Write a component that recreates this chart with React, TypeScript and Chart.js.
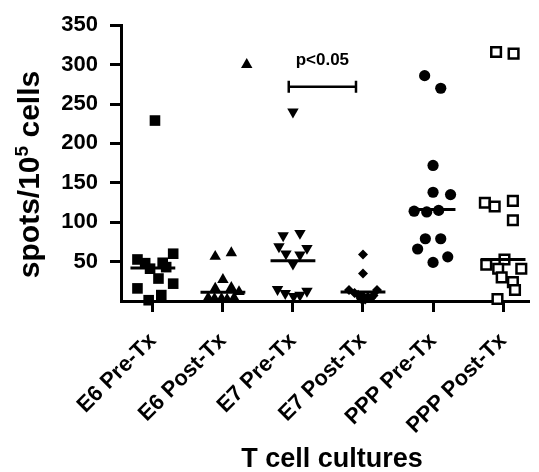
import { useEffect, useRef } from "react";
import { Chart, registerables } from "chart.js";

Chart.register(...registerables);

// ---------- data ----------
const categories = ["E6 Pre-Tx", "E6 Post-Tx", "E7 Pre-Tx", "E7 Post-Tx", "PPP Pre-Tx", "PPP Post-Tx"];
const yTickValues = [50, 100, 150, 200, 250, 300, 350];

const e6PreValues = [229, 60, 52.7, 48.5, 48, 43, 41, 28.5, 22, 16, 7.5, 1];
const e6PreJitter = [0.03, 0.29, -0.22, 0.14, -0.11, 0.19, -0.04, 0.08, 0.29, -0.22, 0.12, -0.06];

const e6PostValues = [300, 61, 56.5, 27, 17, 16, 11.7, 4, 3, 3, 2, 4];
const e6PostJitter = [0.34, 0.12, -0.11, 0, 0.12, -0.11, 0.23, -0.21, -0.12, -0.02, 0.06, 0.16];

const e7PreValues = [240, 86, 83, 69, 67, 60, 58.6, 47, 14.7, 12.5, 9.7, 7.5, 6];
const e7PreJitter = [0, 0.1, -0.14, -0.2, 0.2, -0.1, 0.1, 0, -0.22, 0.2, -0.11, 0.1, 0.01];

const e7PostValues = [59, 35, 14, 14, 10, 8, 6, 5, 4, 3, 2, 7];
const e7PostJitter = [0, 0, -0.2, 0.2, -0.12, -0.07, 0, 0.07, 0.12, -0.03, 0.03, 0.15];

const pppPreValues = [286, 270, 172, 138, 135, 115, 114, 113, 79, 79, 66, 56, 49];
const pppPreJitter = [-0.12, 0.11, 0, 0, 0.25, 0.08, -0.27, -0.09, -0.11, 0.11, -0.22, 0.21, 0];

const pppPostValues = [316, 314, 127, 124.6, 120, 102.5, 52.7, 46, 41, 41, 30, 24, 14, 2.5];
const pppPostJitter = [-0.1, 0.15, 0.14, -0.26, -0.12, 0.14, 0.02, -0.24, -0.07, 0.26, -0.02, 0.14, 0.17, -0.08];

const medians = [42, 11, 51, 11.5, 116, 52.7];

const bracketFrom = 1.94;
const bracketTo = 2.9;
const bracketValue = 272;
const pLabel = "p<0.05";
const pLabelValue = 306;

const xTitle = "T cell cultures";
const yTitleMain = "spots/10";
const yTitleSup = "5";
const yTitleEnd = " cells";

const FONT = "'Liberation Sans', Arial, sans-serif";

function pts(values: number[], jitter: number[], idx: number) {
  return values.map((v, i) => ({ x: idx + jitter[i], y: v }));
}

const annotationPlugin = {
  id: "annotations",
  afterDraw(chart: any) {
    const { ctx, scales } = chart;
    const x = scales.x;
    const y = scales.y;
    ctx.save();
    // significance bracket
    const x1 = x.getPixelForValue(bracketFrom);
    const x2 = x.getPixelForValue(bracketTo);
    const yb = y.getPixelForValue(bracketValue);
    ctx.strokeStyle = "#000";
    ctx.lineWidth = 2.5;
    ctx.beginPath();
    ctx.moveTo(x1, yb);
    ctx.lineTo(x2, yb);
    ctx.moveTo(x1, yb - 6);
    ctx.lineTo(x1, yb + 6);
    ctx.moveTo(x2, yb - 6);
    ctx.lineTo(x2, yb + 6);
    ctx.stroke();
    ctx.fillStyle = "#000";
    ctx.font = `bold 17px ${FONT}`;
    ctx.textAlign = "center";
    ctx.textBaseline = "middle";
    ctx.fillText(pLabel, (x1 + x2) / 2, y.getPixelForValue(pLabelValue));

    // x title
    ctx.font = `bold 27px ${FONT}`;
    ctx.textAlign = "center";
    ctx.textBaseline = "alphabetic";
    ctx.fillText(xTitle, 332, 466.5);

    // y title with superscript
    const mainFont = `bold 30px ${FONT}`;
    const supFont = `bold 19px ${FONT}`;
    ctx.font = mainFont;
    const w1 = ctx.measureText(yTitleMain).width;
    const w3 = ctx.measureText(yTitleEnd).width;
    ctx.font = supFont;
    const w2 = ctx.measureText(yTitleSup).width;
    const total = w1 + w2 + w3;
    ctx.translate(39, 174.5);
    ctx.rotate(-Math.PI / 2);
    ctx.textAlign = "left";
    ctx.textBaseline = "alphabetic";
    let cx = -total / 2;
    ctx.font = mainFont;
    ctx.fillText(yTitleMain, cx, 0);
    cx += w1;
    ctx.font = supFont;
    ctx.fillText(yTitleSup, cx, -11);
    cx += w2;
    ctx.font = mainFont;
    ctx.fillText(yTitleEnd, cx, 0);
    ctx.restore();
  },
};

export default function App() {
  const ref = useRef<HTMLCanvasElement | null>(null);

  useEffect(() => {
    document.body.style.margin = "0";
    const canvas = ref.current;
    if (!canvas) return;

    const pointSets = [
      { data: pts(e6PreValues, e6PreJitter, 0), pointStyle: "rect", pointRadius: 7.5, bg: "#000", rot: 0 },
      { data: pts(e6PostValues, e6PostJitter, 1), pointStyle: "triangle", pointRadius: 6.6, bg: "#000", rot: 0 },
      { data: pts(e7PreValues, e7PreJitter, 2), pointStyle: "triangle", pointRadius: 6.6, bg: "#000", rot: 180 },
      { data: pts(e7PostValues, e7PostJitter, 3), pointStyle: "rectRot", pointRadius: 5, bg: "#000", rot: 0 },
      { data: pts(pppPreValues, pppPreJitter, 4), pointStyle: "circle", pointRadius: 5.6, bg: "#000", rot: 0 },
      { data: pts(pppPostValues, pppPostJitter, 5), pointStyle: "rect", pointRadius: 6.8, bg: "#fff", rot: 0 },
    ];

    const datasets: any[] = [];
    medians.forEach((m, i) => {
      datasets.push({
        label: `median ${categories[i]}`,
        data: [
          { x: i - 0.32, y: m },
          { x: i + 0.32, y: m },
        ],
        showLine: true,
        borderColor: "#000",
        borderWidth: 3,
        pointRadius: 0,
        order: 0,
        clip: false,
      });
    });
    pointSets.forEach((s, i) => {
      datasets.push({
        label: categories[i],
        data: s.data,
        pointStyle: s.pointStyle,
        pointRadius: s.pointRadius,
        pointRotation: s.rot,
        pointBackgroundColor: s.bg,
        pointBorderColor: "#000",
        pointBorderWidth: s.bg === "#fff" ? 2.5 : 0,
        showLine: false,
        order: 1,
        clip: false,
      });
    });

    const chart = new Chart(canvas, {
      type: "scatter",
      data: { datasets },
      options: {
        animation: false,
        responsive: false,
        events: [],
        layout: { padding: { top: 22, right: 7, left: 0, bottom: 0 } },
        plugins: {
          legend: { display: false },
          tooltip: { enabled: false },
        },
        scales: {
          x: {
            type: "linear",
            min: -0.455,
            max: 5.38,
            afterBuildTicks: (scale: any) => {
              scale.ticks = categories.map((_, i) => ({ value: i }));
            },
            afterFit: (scale: any) => {
              scale.height = 171;
            },
            ticks: {
              autoSkip: false,
              maxRotation: 45,
              minRotation: 45,
              padding: 16,
              color: "#000",
              font: { family: FONT, size: 22, weight: "bold" },
              callback: (v: any) => categories[Math.round(Number(v))],
            },
            grid: {
              drawOnChartArea: false,
              drawTicks: true,
              tickLength: 11,
              tickWidth: 3,
              tickColor: "#000",
            },
            border: { display: true, color: "#000", width: 3 },
          },
          y: {
            type: "linear",
            min: 0,
            max: 350,
            afterBuildTicks: (scale: any) => {
              scale.ticks = yTickValues.map((v) => ({ value: v }));
            },
            afterFit: (scale: any) => {
              scale.width = 121;
            },
            ticks: {
              padding: 12,
              color: "#000",
              font: { family: FONT, size: 22, weight: "bold" },
            },
            grid: {
              drawOnChartArea: false,
              drawTicks: true,
              tickLength: 11,
              tickWidth: 3,
              tickColor: "#000",
            },
            border: { display: true, color: "#000", width: 3 },
          },
        },
      },
      plugins: [annotationPlugin],
    });

    return () => chart.destroy();
  }, []);

  return (
    <div style={{ width: 539, height: 472, background: "#fff" }}>
      <canvas ref={ref} width={539} height={472} style={{ width: 539, height: 472, display: "block" }} />
    </div>
  );
}
